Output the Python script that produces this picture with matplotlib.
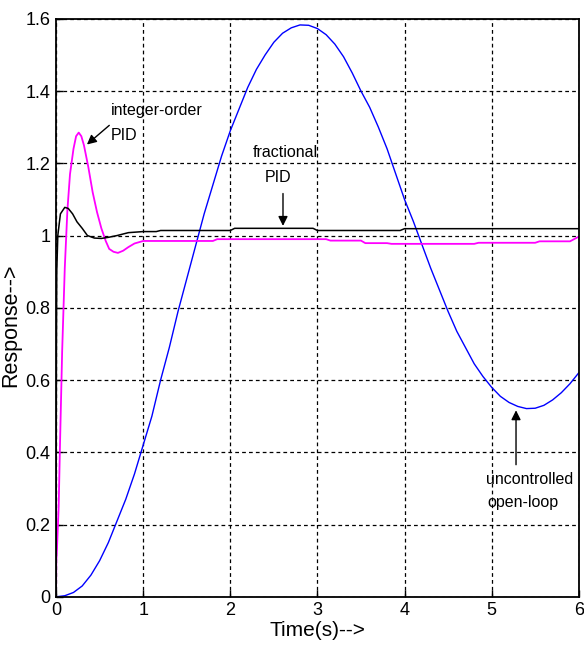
import matplotlib
matplotlib.use("Agg")
import matplotlib.pyplot as plt

# values
t_open = [0, 0.1, 0.2, 0.3, 0.4, 0.5, 0.6, 0.7, 0.8, 0.9, 1.0, 1.1, 1.2, 1.3, 1.4, 1.5, 1.6,
          1.7, 1.8, 1.9, 2.0, 2.1, 2.2, 2.3, 2.4, 2.5, 2.6, 2.7, 2.8, 2.9, 3.0, 3.1, 3.2, 3.3,
          3.4, 3.5, 3.6, 3.7, 3.8, 3.9, 4.0, 4.1, 4.2, 4.3, 4.4, 4.5, 4.6, 4.7, 4.8, 4.9, 5.0,
          5.1, 5.2, 5.3, 5.4, 5.5, 5.6, 5.7, 5.8, 5.9, 6.0]
y_open = [0, 0.003, 0.012, 0.03, 0.06, 0.1, 0.15, 0.21, 0.27, 0.34, 0.42, 0.5, 0.6, 0.69, 0.79,
          0.88, 0.97, 1.06, 1.14, 1.22, 1.29, 1.35, 1.41, 1.46, 1.5, 1.535, 1.56, 1.575, 1.583,
          1.582, 1.573, 1.556, 1.53, 1.495, 1.45, 1.4, 1.355, 1.3, 1.24, 1.17, 1.1, 1.04, 0.975,
          0.91, 0.85, 0.79, 0.735, 0.69, 0.645, 0.61, 0.58, 0.555, 0.538, 0.527, 0.521, 0.522,
          0.53, 0.545, 0.565, 0.59, 0.62]

t_int = [0, 0.003, 0.01, 0.03, 0.046, 0.07, 0.1, 0.13, 0.16, 0.2, 0.23, 0.26, 0.29, 0.32, 0.37,
         0.42, 0.47, 0.52, 0.57, 0.61, 0.66, 0.71, 0.77, 0.83, 0.9, 1.0, 1.8, 1.85, 3.1, 3.15,
         3.5, 3.55, 3.8, 3.85, 4.8, 4.85, 5.5, 5.55, 5.9, 6.0]
y_int = [0, 0.1, 0.13, 0.25, 0.43, 0.68, 0.91, 1.07, 1.17, 1.24, 1.275, 1.285, 1.275, 1.25, 1.19,
         1.12, 1.065, 1.02, 0.985, 0.963, 0.955, 0.952, 0.958, 0.968, 0.978, 0.985, 0.985, 0.99,
         0.99, 0.986, 0.986, 0.979, 0.979, 0.977, 0.977, 0.98, 0.98, 0.984, 0.984, 0.997]

t_frac = [0, 0.002, 0.004, 0.008, 0.02, 0.05, 0.1, 0.14, 0.19, 0.24, 0.3, 0.36, 0.44, 0.52, 0.6,
          0.7, 0.83, 1.0, 1.15, 1.2, 2.0, 2.05, 2.95, 3.0, 3.95, 4.0, 6.0]
y_frac = [0, 0.4, 0.68, 0.9, 1.0, 1.06, 1.078, 1.075, 1.06, 1.038, 1.02, 1.0, 0.993, 0.992, 0.995,
          1.0, 1.008, 1.011, 1.011, 1.014, 1.014, 1.02, 1.02, 1.014, 1.014, 1.019, 1.019]

x_ticks = [0, 1, 2, 3, 4, 5, 6]
y_ticks = [0, 0.2, 0.4, 0.6, 0.8, 1.0, 1.2, 1.4, 1.6]
y_tick_labels = ["0", "0.2", "0.4", "0.6", "0.8", "1", "1.2", "1.4", "1.6"]

plt.rcParams['font.family'] = ['Liberation Sans', 'DejaVu Sans']

fig = plt.figure(figsize=(5.84, 6.48), dpi=100)
ax = fig.add_axes([0.096, 0.079, 0.895, 0.892])

ax.plot(t_open, y_open, color='#0000ff', lw=1.0)
ax.plot(t_int, y_int, color='#ff00ff', lw=1.3)
ax.plot(t_frac, y_frac, color='black', lw=1.1)

ax.set_xlim(0, 6)
ax.set_ylim(0, 1.6)
ax.set_xticks(x_ticks)
ax.set_yticks(y_ticks)
ax.set_yticklabels(y_tick_labels)
ax.tick_params(direction='in', length=5, width=1, labelsize=13, pad=4)
ax.grid(True, color='black', linestyle=(0, (3, 2.5)), linewidth=0.9)
for sp in ax.spines.values():
    sp.set_linewidth(1.3)

ax.set_xlabel("Time(s)-->", fontsize=15)
ax.set_ylabel("Response-->", fontsize=15.5)
ax.xaxis.set_label_coords(0.5, -0.042)
ax.yaxis.set_label_coords(-0.066, 0.469)

arrow = dict(arrowstyle='-|>', color='black', lw=1.0, mutation_scale=14)
ax.annotate("", xy=(0.33, 1.247), xytext=(0.635, 1.31), arrowprops=arrow)
ax.text(0.63, 1.346, "integer-order", fontsize=11.5, ha='left', va='center')
ax.text(0.63, 1.277, "PID", fontsize=11.5, ha='left', va='center')

ax.annotate("", xy=(2.605, 1.019), xytext=(2.605, 1.124), arrowprops=arrow)
ax.text(2.63, 1.231, "fractional", fontsize=11.5, ha='center', va='center')
ax.text(2.546, 1.161, "PID", fontsize=11.5, ha='center', va='center')

ax.annotate("", xy=(5.28, 0.524), xytext=(5.28, 0.358), arrowprops=arrow)
ax.text(4.935, 0.326, "uncontrolled", fontsize=11.5, ha='left', va='center')
ax.text(4.955, 0.262, "open-loop", fontsize=11.5, ha='left', va='center')

fig.savefig("out.png", dpi=100)
